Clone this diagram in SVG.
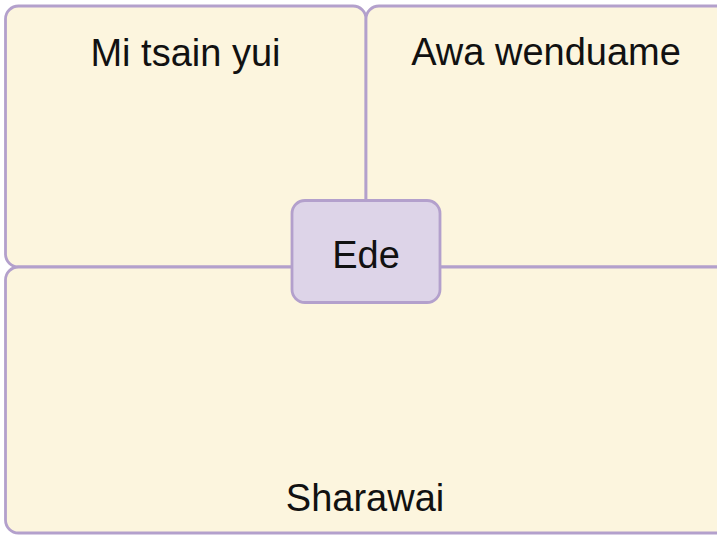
<svg xmlns="http://www.w3.org/2000/svg" width="717" height="535" viewBox="0 0 717 535">
<style>
.panel{fill:#fcf5de;stroke:#b3a0cc;stroke-width:2.8}
.center{fill:#ddd4e8;stroke:#b3a0cc;stroke-width:2.8}
.lbl{font-family:"Liberation Sans",Arial,sans-serif;font-size:38px;fill:#111;text-anchor:middle}
</style>
<rect width="717" height="535" fill="#ffffff"/>
<g id="node-mi-tsain-yui">
<rect class="panel" x="5.5" y="6" width="360.5" height="261" rx="13"/>
<text class="lbl" x="185.5" y="66">Mi tsain yui</text>
</g>
<g id="node-awa-wenduame">
<rect class="panel" x="366" y="6" width="364" height="261" rx="13"/>
<text class="lbl" x="546" y="65">Awa wenduame</text>
</g>
<g id="node-sharawai">
<rect class="panel" x="5.5" y="267" width="730" height="266" rx="13"/>
<text class="lbl" x="365" y="511">Sharawai</text>
</g>
<g id="connectors"></g>
<g id="node-ede">
<rect class="center" x="292" y="200.5" width="148" height="102" rx="13"/>
<text class="lbl" x="366" y="268">Ede</text>
</g>
</svg>
